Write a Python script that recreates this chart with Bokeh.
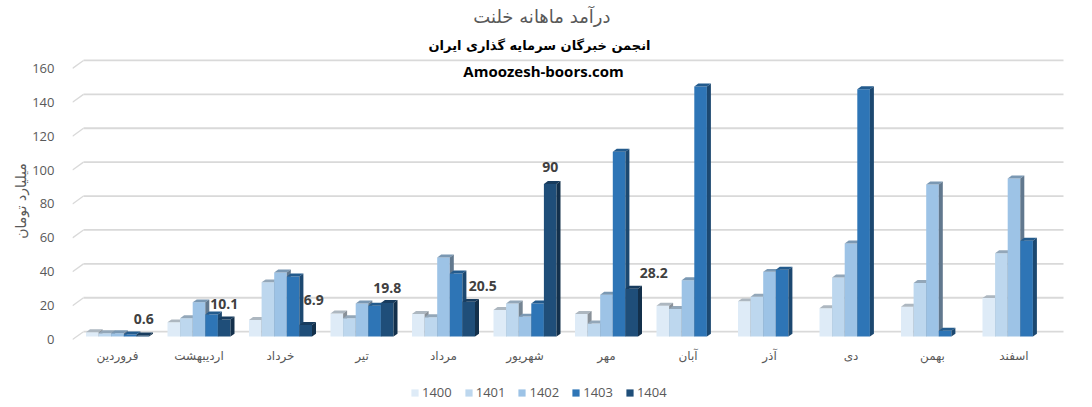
from bokeh.plotting import figure
from bokeh.models import Range1d, FixedTicker, Legend, LegendItem, Title
from bokeh.layouts import column
from bokeh.embed import file_html
from bokeh.resources import INLINE
from bokeh.core.properties import value

# ---------------- data ----------------
months = ["فروردین", "اردیبهشت", "خرداد", "تیر", "مرداد", "شهریور",
          "مهر", "آبان", "آذر", "دی", "بهمن", "اسفند"]
years = ["1400", "1401", "1402", "1403", "1404"]
v1400 = [2.6, 8.4, 9.8, 13.7, 13.3, 15.7, 13.3, 18.2, 20.8, 16.7, 17.6, 22.7]
v1401 = [2.0, 10.8, 32.0, 10.8, 11.4, 19.6, 7.8, 16.3, 23.5, 34.9, 31.6, 49.2]
v1402 = [2.0, 20.2, 37.8, 19.6, 46.7, 11.8, 24.7, 33.3, 38.2, 54.9, 89.8, 93.3]
v1403 = [1.2, 13.0, 35.5, 18.2, 37.3, 19.6, 109.0, 147.6, 39.4, 146.0, 3.5, 56.5]
v1404 = [0.6, 10.1, 6.9, 19.8, 20.5, 90.0, 28.2]
y_ticks = [0, 20, 40, 60, 80, 100, 120, 140, 160]

title_text = "درآمد ماهانه خلنت"
subtitle_text = "انجمن خبرگان سرمایه گذاری ایران"
site_text = "Amoozesh-boors.com"
y_title = "میلیارد تومان"

# ---------------- style / layout ----------------
colors = ["#DEEBF7", "#BDD7EE", "#9DC3E6", "#2E75B6", "#1F4E79"]
W, H = 1084, 380
LEG_H = 24
XPX = 81.5      # px per category
YPX = 1.7125    # px per unit
FRAME_L, FRAME_R, FRAME_T, FRAME_B = 72, 1066, 52, 346   # figure px
X0PX = 117      # figure px of category 0 centre
Y0PX = 339      # figure px of value 0
BW = 12.6 / XPX                 # bar width (category units)
DDX, DDY = 4 / XPX, 3 / YPX     # bar depth
FLOOR = 3 / YPX                 # bar floor above 0 label line
WDX, WDY = 11 / XPX, 8 / YPX    # back wall offset
label_dx = [1, 0, 8, 0, 14, 0, 22]      # px nudges of data labels
label_dy = [17, 16, 25, 15, 16, 17, 16]
PERSIAN = "DejaVu Sans"
LATIN = "Open Sans"


def px_x(px):
    return (px - X0PX) / XPX


def px_y(py):
    return (Y0PX - py) / YPX


def shade(h, f):
    h = h.lstrip("#")
    r, g, b = (int(h[i:i + 2], 16) for i in (0, 2, 4))
    return "#%02x%02x%02x" % (int(r * f), int(g * f), int(b * f))


p = figure(width=W, height=H, output_backend="svg", toolbar_location=None,
           x_range=Range1d(px_x(FRAME_L), px_x(FRAME_R)),
           y_range=Range1d(px_y(FRAME_B), px_y(FRAME_T)),
           min_border_left=FRAME_L, min_border_right=W - FRAME_R,
           min_border_top=FRAME_T, min_border_bottom=H - FRAME_B)
p.outline_line_color = None
p.xgrid.visible = False
p.ygrid.visible = False
p.background_fill_color = "white"
p.border_fill_color = "white"

# titles (above the frame)
p.add_layout(Title(text=subtitle_text, align="right", offset=FRAME_R - 650,
                   text_font=PERSIAN, text_font_size="13px",
                   text_font_style="bold", text_color="#000000", standoff=5),
             "above")
p.add_layout(Title(text=title_text, align="right", offset=FRAME_R - 610,
                   text_font=PERSIAN, text_font_size="18px",
                   text_font_style="normal", text_color="#595959", standoff=10,
                   vertical_align="top"),
             "above")

# back-wall gridlines
x_start = px_x(FRAME_L)
x_end = px_x(1063)
p.segment(x0=[x_start] * len(y_ticks), y0=y_ticks,
          x1=[x_start + WDX] * len(y_ticks), y1=[t + WDY for t in y_ticks],
          line_color="#d9d9d9", line_width=1.3)
p.segment(x0=[x_start + WDX] * len(y_ticks), y0=[t + WDY for t in y_ticks],
          x1=[x_end] * len(y_ticks), y1=[t + WDY for t in y_ticks],
          line_color="#d9d9d9", line_width=1.8)

# 3D bars
series = [v1400, v1401, v1402, v1403, v1404]
for j, vals in enumerate(series):
    lefts, rights, tops = [], [], []
    for i, v in enumerate(vals):
        xl = i - 2.5 * BW + j * BW
        lefts.append(xl)
        rights.append(xl + BW)
        tops.append(FLOOR + v)
    p.quad(left=lefts, right=rights, bottom=[FLOOR] * len(vals), top=tops,
           fill_color=colors[j], line_color=None)
    top_xs = [[l, rr, rr + DDX, l + DDX] for l, rr in zip(lefts, rights)]
    top_ys = [[t, t, t + DDY, t + DDY] for t in tops]
    p.patches(top_xs, top_ys, fill_color=shade(colors[j], 0.78), line_color=None)
    side_xs = [[rr, rr + DDX, rr + DDX, rr] for rr in rights]
    side_ys = [[FLOOR, FLOOR + DDY, t + DDY, t] for t in tops]
    p.patches(side_xs, side_ys, fill_color=shade(colors[j], 0.62), line_color=None)

# data labels for 1404
lab_x = [i + 2 * BW + label_dx[i] / XPX for i in range(len(v1404))]
lab_y = [FLOOR + v + label_dy[i] / YPX for i, v in enumerate(v1404)]
p.text(x=lab_x, y=lab_y, text=[("%g" % v) for v in v1404],
       text_font=value(LATIN), text_font_size="14px", text_font_style="bold",
       text_color="#404040", text_align="center", text_baseline="middle")

# site name inside the plot area
p.text(x=[px_x(543)], y=[px_y(68)], text=[site_text], text_font=value(LATIN),
       text_font_size="15px", text_font_style="bold", text_color="#000000",
       text_align="center", text_baseline="middle")

# axes
p.yaxis.ticker = FixedTicker(ticks=y_ticks)
p.yaxis.axis_line_color = None
p.yaxis.major_tick_line_color = None
p.yaxis.minor_tick_line_color = None
p.yaxis.major_label_standoff = 12
p.yaxis.major_label_text_font = LATIN
p.yaxis.major_label_text_font_size = "13px"
p.yaxis.major_label_text_color = "#595959"
p.yaxis.axis_label = y_title
p.yaxis.axis_label_text_font = PERSIAN
p.yaxis.axis_label_text_font_size = "14px"
p.yaxis.axis_label_text_font_style = "normal"
p.yaxis.axis_label_text_color = "#595959"
p.yaxis.axis_label_standoff = 0

p.xaxis.ticker = FixedTicker(ticks=list(range(len(months))))
p.xaxis.major_label_overrides = {i: m for i, m in enumerate(months)}
p.xaxis.axis_line_color = None
p.xaxis.major_tick_line_color = None
p.xaxis.minor_tick_line_color = None
p.xaxis.major_tick_out = 0
p.xaxis.major_tick_in = 0
p.xaxis.major_label_standoff = 2
p.xaxis.major_label_text_font = PERSIAN
p.xaxis.major_label_text_font_size = "12px"
p.xaxis.major_label_text_color = "#595959"

# legend strip below the chart
p2 = figure(width=W, height=LEG_H, output_backend="svg", toolbar_location=None,
            x_axis_location=None, y_axis_location=None,
            x_range=Range1d(0, 1), y_range=Range1d(0, 1),
            min_border_left=0, min_border_right=0, min_border_top=0,
            min_border_bottom=0)
p2.outline_line_color = None
p2.xgrid.visible = False
p2.ygrid.visible = False
legend_items = []
for j, yr in enumerate(years):
    # zero-area proxy glyph: only used to draw the legend swatch
    r = p2.quad(left=[0], right=[0], top=[0], bottom=[0], fill_color=colors[j],
                line_color=None)
    legend_items.append(LegendItem(label=yr, renderers=[r]))
legend = Legend(items=legend_items, orientation="horizontal", location=(338, 3),
                glyph_width=9, glyph_height=9, label_height=14,
                label_text_font=LATIN, label_text_font_size="13px",
                label_text_color="#595959", label_standoff=3, spacing=12,
                padding=0, margin=0, border_line_color=None,
                background_fill_alpha=0)
p2.add_layout(legend, "center")

open("out.html", "w").write(file_html(column(p, p2), INLINE))
